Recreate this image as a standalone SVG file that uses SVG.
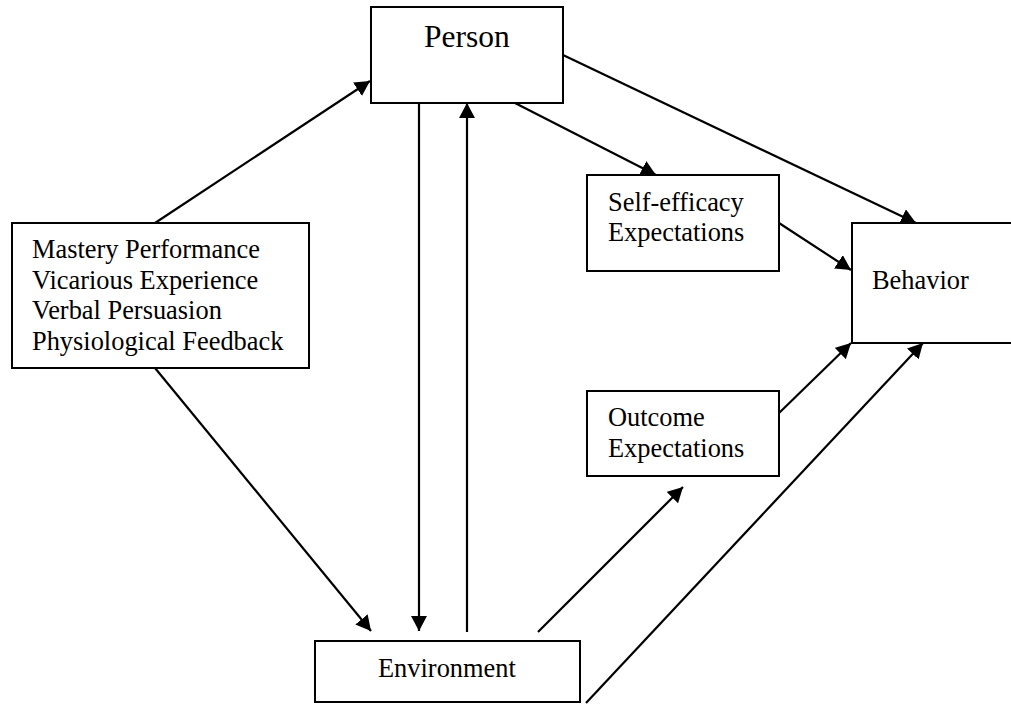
<svg xmlns="http://www.w3.org/2000/svg" width="1011" height="704" viewBox="0 0 1011 704">
<style>
.box{fill:#fff;stroke:#000;stroke-width:2}
.t{font-family:"Liberation Serif","Times New Roman",serif;font-size:26.4px;fill:#000}
.big{font-size:31.5px}
.c{stroke:#000;stroke-width:2.2;fill:none;marker-end:url(#ah)}
</style>
<defs>
<marker id="ah" markerUnits="userSpaceOnUse" markerWidth="16" markerHeight="16" refX="15" refY="8" orient="auto">
<path d="M0,0 L15,8 L0,16 z" fill="#000"/>
</marker>
</defs>
<g id="connectors">
<line class="c" x1="155" y1="223" x2="370" y2="81"/>
<line class="c" x1="155" y1="368" x2="371" y2="631"/>
<line class="c" x1="419" y1="103" x2="419" y2="631"/>
<line class="c" x1="467" y1="632" x2="467" y2="103"/>
<line class="c" x1="515" y1="103" x2="656" y2="175"/>
<line class="c" x1="563" y1="55" x2="916" y2="223"/>
<line class="c" x1="779" y1="223" x2="851" y2="270"/>
<line class="c" x1="778" y1="414" x2="851" y2="343"/>
<line class="c" x1="538" y1="632" x2="683" y2="487"/>
<line class="c" x1="586" y1="703" x2="923" y2="343"/>
</g>
<g id="person">
<rect class="box" x="371" y="7" width="192" height="96"/>
<text class="t big" x="424" y="47">Person</text>
</g>
<g id="sources">
<rect class="box" x="12" y="223" width="297" height="145"/>
<text class="t" x="32" y="258">Mastery Performance</text>
<text class="t" x="32" y="288.5">Vicarious Experience</text>
<text class="t" x="32" y="319">Verbal Persuasion</text>
<text class="t" x="32" y="349.5">Physiological Feedback</text>
</g>
<g id="self-efficacy">
<rect class="box" x="587" y="175" width="192" height="96"/>
<text class="t" x="608" y="211">Self-efficacy</text>
<text class="t" x="608" y="241">Expectations</text>
</g>
<g id="behavior">
<rect class="box" x="852" y="223" width="170" height="120"/>
<text class="t" x="872" y="289">Behavior</text>
</g>
<g id="outcome">
<rect class="box" x="587" y="391" width="192" height="85"/>
<text class="t" x="608" y="426">Outcome</text>
<text class="t" x="608" y="457">Expectations</text>
</g>
<g id="environment">
<rect class="box" x="315" y="641" width="265" height="61"/>
<text class="t" x="378" y="677">Environment</text>
</g>
</svg>
